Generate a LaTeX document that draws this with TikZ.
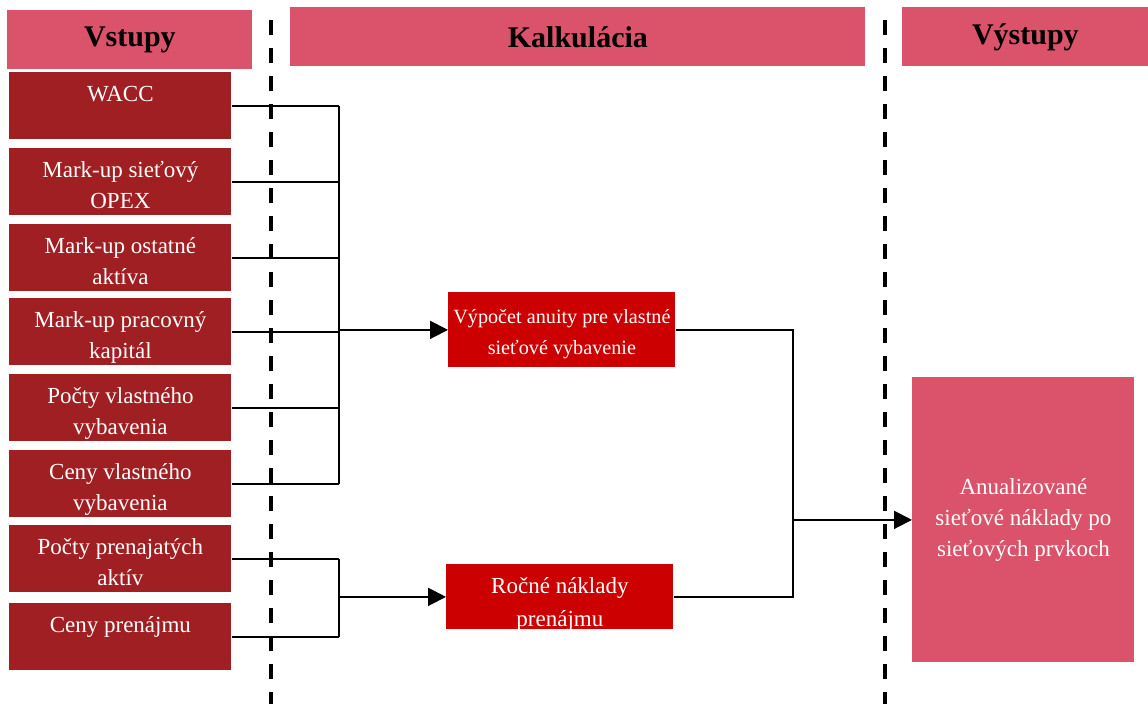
\documentclass[tikz,border=0pt]{standalone}
\usepackage{fontspec}
\setmainfont{Liberation Serif}
\usepackage{tikz}
\usetikzlibrary{arrows.meta,backgrounds}
\definecolor{headpink}{RGB}{218,83,107}
\definecolor{indark}{RGB}{160,31,34}
\definecolor{calcred}{RGB}{204,0,0}

\tikzset{
  head/.style={fill=headpink,anchor=north west,inner sep=0pt,font=\fontsize{15}{18}\selectfont\bfseries},
  inbox/.style={fill=indark,text=white,anchor=north west,inner sep=0pt,text width=111pt,align=flush center,
    text height=14.5pt,text depth=19pt,font=\fontsize{11.5}{15.5}\selectfont},
  calcbox/.style={fill=calcred,text=white,anchor=north west,inner sep=0pt,text width=113.5pt,align=flush center},
  outbox/.style={fill=headpink,text=white,anchor=north west,inner sep=0pt,minimum width=111pt,minimum height=142.5pt,
    align=flush center,font=\fontsize{11.5}{15.5}\selectfont},
  conn/.style={line width=1pt},
  arr/.style={line width=1pt,-{Triangle[length=9pt,width=9pt]}},
  sep/.style={line width=2pt,dash pattern=on 7.5pt off 6.5pt}
}

\begin{document}
\begin{tikzpicture}[x=0.5pt,y=-0.5pt]
\useasboundingbox[fill=white] (0,0) rectangle (1148,704);

% headers
\node[head,minimum width=122.5pt,minimum height=29.5pt] (hin) at (7,10) {Vstupy};
\node[head,minimum width=287.5pt,minimum height=29.5pt] (hcalc) at (290,7) {Kalkulácia};
\node[head,minimum width=123pt,minimum height=29.5pt] (hout) at (902,7) {Výstupy};

% column separators
\draw[sep] (271,20) -- (271,704);
\draw[sep] (885,20) -- (885,704);

% inputs
\node[inbox] (in1) at (9,72) {WACC};
\node[inbox] (in2) at (9,148) {Mark-up sieťový\\OPEX};
\node[inbox] (in3) at (9,224) {Mark-up ostatné\\aktíva};
\node[inbox] (in4) at (9,298) {Mark-up pracovný\\kapitál};
\node[inbox] (in5) at (9,374) {Počty vlastného\\vybavenia};
\node[inbox] (in6) at (9,450) {Ceny vlastného\\vybavenia};
\node[inbox] (in7) at (9,525) {Počty prenajatých\\aktív};
\node[inbox] (in8) at (9,603) {Ceny prenájmu};

% calculation
\node[calcbox,text height=15.5pt,text depth=22pt,font=\fontsize{10.1}{15.5}\selectfont] (calcA) at (448,292)
  {Výpočet anuity pre vlastné\\sieťové vybavenie};
\node[calcbox,minimum height=32.5pt] (calcB) at (446,564) {};
\begin{scope}
\clip (calcB.south west) rectangle (calcB.north east);
\node[text=white,anchor=north,inner sep=0pt,text width=113.5pt,align=flush center,text height=14.5pt,
  font=\fontsize{11.5}{16.5}\selectfont] (calcBtext) at (calcB.north) {Ročné náklady\\prenájmu};
\end{scope}

% output
\node[outbox] (out) at (912,377) {Anualizované\\sieťové náklady po\\sieťových prvkoch};

% connectors
\coordinate (busA) at (339,0);
\coordinate (busB) at (793,0);
\foreach \i in {1,...,8}
  \draw[conn] (in\i.east) -- (in\i.east -| busA);
\draw[conn] (in1.east -| busA) -- (in6.east -| busA);
\draw[conn] (in7.east -| busA) -- (in8.east -| busA);
\draw[arr] (calcA.west -| busA) -- (calcA.west);
\draw[arr] (calcB.west -| busA) -- (calcB.west);
\draw[conn] (calcA.east) -| (busB |- out.west) |- (calcB.east);
\draw[arr] (busB |- out.west) -- (out.west);
\end{tikzpicture}
\end{document}
